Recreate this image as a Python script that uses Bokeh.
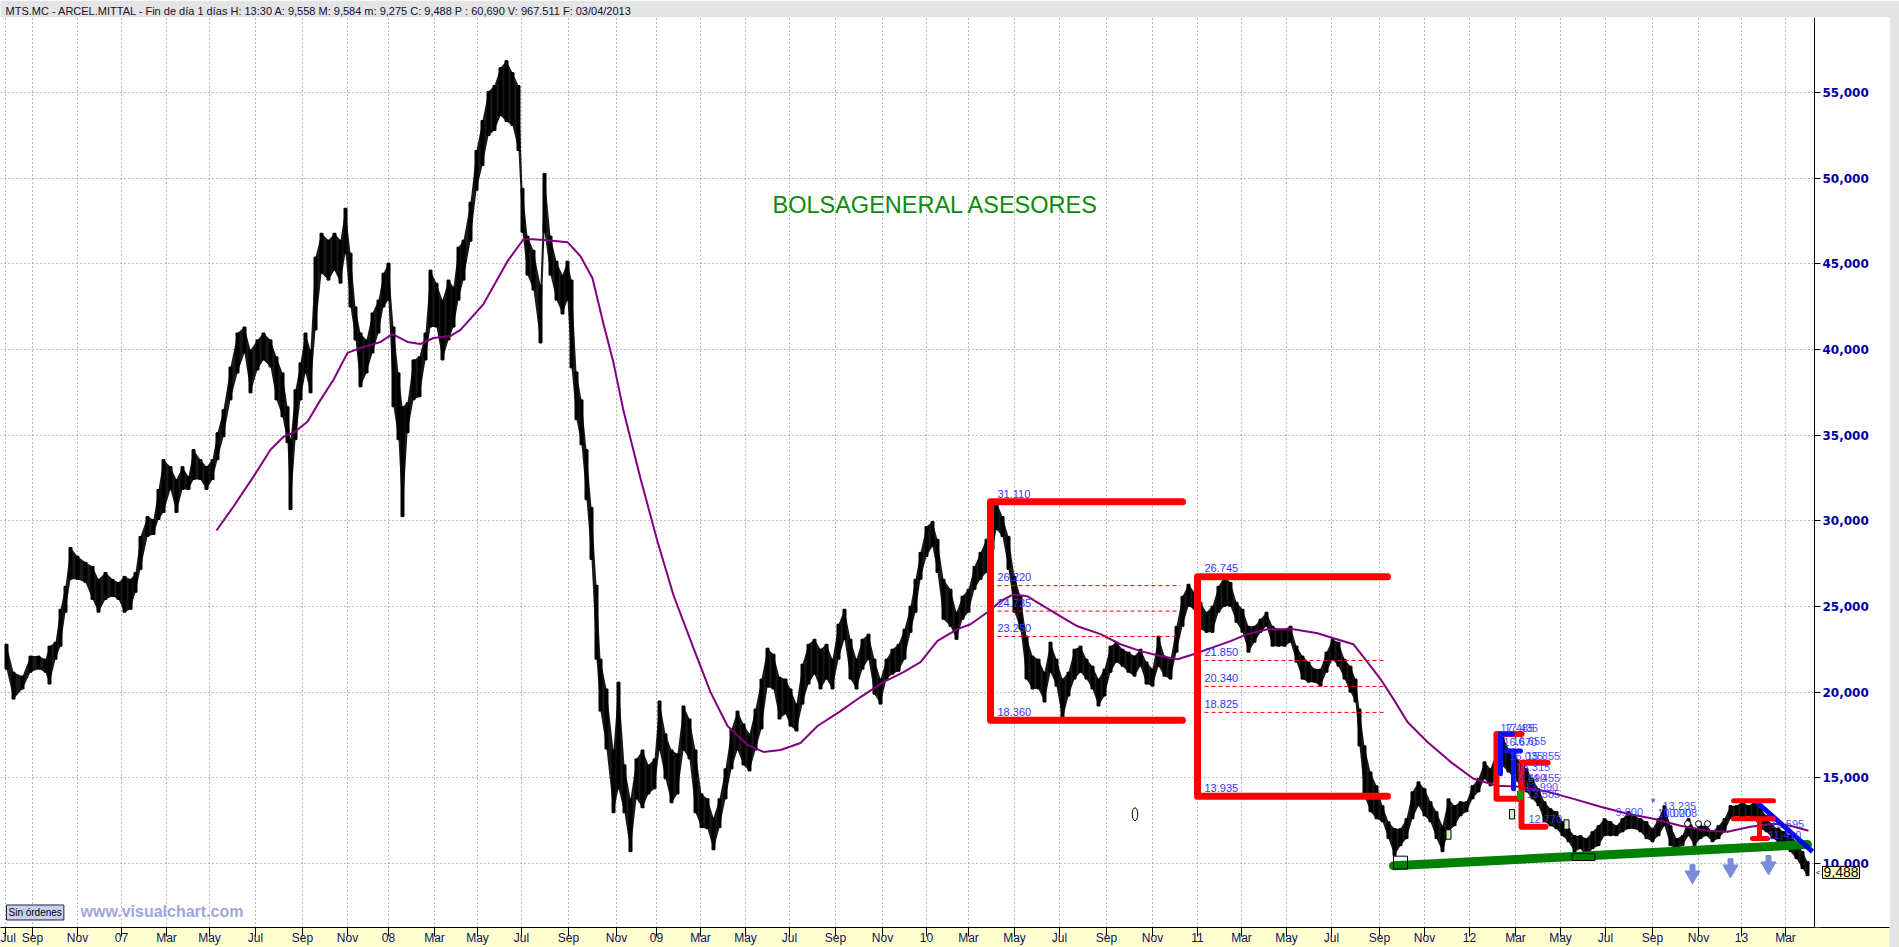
from bokeh.plotting import figure
from bokeh.models import FixedTicker, Label
from bokeh.embed import file_html
from bokeh.resources import INLINE
from bokeh.core.properties import value

# ---------------- data ----------------
header_text = ("MTS.MC - ARCEL.MITTAL - Fin de día 1 días  H: 13:30  A: 9,558  M: 9,584  "
               "m: 9,275  C: 9,488  P : 60,690  V: 967.511  F: 03/04/2013")

# x axis: bar index of first session of each labelled month
tick_pos = [5, 32, 77, 121, 166, 209, 255, 302, 347, 388, 434, 477, 521, 568, 616, 656,
            700, 745, 789, 835, 882, 926, 968, 1014, 1059, 1106, 1152, 1197, 1241, 1286,
            1331, 1379, 1424, 1469, 1515, 1560, 1605, 1652, 1698, 1741, 1785]
tick_lab = ["Jul", "Sep", "Nov", "07", "Mar", "May", "Jul", "Sep", "Nov", "08", "Mar", "May",
            "Jul", "Sep", "Nov", "09", "Mar", "May", "Jul", "Sep", "Nov", "10", "Mar", "May",
            "Jul", "Sep", "Nov", "11", "Mar", "May", "Jul", "Sep", "Nov", "12", "Mar", "May",
            "Jul", "Sep", "Nov", "13", "Mar"]
price_ticks = [10, 15, 20, 25, 30, 35, 40, 45, 50, 55]
price_labels = ["10,000", "15,000", "20,000", "25,000", "30,000", "35,000", "40,000",
                "45,000", "50,000", "55,000"]

bar_x = [6, 13, 22, 30, 38, 45, 49, 55, 60, 65,
         70, 77, 85, 92, 98, 105, 112, 118, 124, 130,
         135, 140, 147, 153, 158, 163, 170, 176, 182, 188,
         193, 200, 206, 212, 217, 223, 230, 237, 244, 250,
         257, 263, 270, 276, 282, 287, 290, 295, 300, 305,
         310, 315, 321, 328, 334, 340, 345, 350, 355, 360,
         366, 372, 378, 383, 388, 393, 398, 402, 407, 413,
         419, 425, 430, 436, 442, 448, 453, 458, 463, 470,
         476, 482, 488, 494, 500, 506, 512, 518, 522, 527,
         533, 540, 544, 550, 556, 562, 567, 571, 576, 581,
         586, 591, 596, 600, 606, 613, 618, 624, 630, 636,
         642, 648, 654, 659, 665, 671, 677, 683, 689, 695,
         701, 707, 713, 719, 725, 731, 737, 743, 749, 755,
         761, 767, 773, 779, 785, 790, 796, 802, 808, 814,
         820, 826, 832, 838, 844, 850, 856, 862, 868, 874,
         880, 886, 892, 898, 904, 910, 915, 920, 926, 932,
         937, 943, 950, 956, 962, 968, 974, 980, 986, 992,
         996, 1002, 1008, 1014, 1020, 1026, 1032, 1038, 1044, 1050,
         1056, 1062, 1068, 1074, 1080, 1086, 1092, 1098, 1104, 1110,
         1116, 1122, 1128, 1134, 1140, 1146, 1152, 1158, 1164, 1170,
         1176, 1182, 1188, 1194, 1200, 1206, 1212, 1218, 1224, 1230,
         1236, 1242, 1248, 1254, 1260, 1266, 1272, 1278, 1284, 1290,
         1296, 1302, 1308, 1314, 1320, 1326, 1332, 1338, 1344, 1350,
         1355, 1359, 1364, 1370, 1376, 1382, 1388, 1394, 1400, 1406,
         1412, 1418, 1424, 1430, 1436, 1442, 1448, 1454, 1460, 1466,
         1472, 1478, 1484, 1490, 1496, 1502, 1508, 1514, 1520, 1526,
         1532, 1538, 1544, 1550, 1556, 1562, 1568, 1574, 1580, 1586,
         1592, 1598, 1604, 1610, 1616, 1622, 1628, 1634, 1640, 1646,
         1652, 1658, 1664, 1670, 1676, 1682, 1688, 1694, 1700, 1706,
         1712, 1718, 1724, 1730, 1736, 1742, 1748, 1754, 1760, 1766,
         1772, 1778, 1784, 1790, 1796, 1802, 1807]

bar_high = [22.80, 21.17, 20.94, 22.11, 22.11, 21.93, 22.69, 22.92, 24.84, 26.18,
            28.45, 27.93, 27.58, 27.34, 26.59, 26.99, 26.59, 26.41, 26.76, 26.59,
            26.99, 29.09, 30.25, 30.08, 31.83, 33.57, 33.16, 32.41, 33.16, 32.58,
            34.15, 33.57, 33.16, 33.57, 35.14, 36.48, 38.98, 40.96, 41.31, 39.97,
            40.56, 40.96, 40.56, 39.57, 38.63, 36.66, 34.74, 37.65, 39.22, 40.96,
            39.97, 45.39, 46.78, 46.38, 46.78, 46.38, 48.24, 45.62, 42.48, 40.96,
            40.56, 42.13, 42.88, 44.45, 45.04, 41.31, 38.63, 36.66, 36.89, 39.39,
            39.57, 40.96, 44.63, 43.87, 42.88, 44.05, 43.64, 45.97, 46.38, 48.59,
            51.61, 53.36, 55.05, 55.40, 56.44, 56.85, 56.15, 55.40, 49.40, 46.61,
            45.79, 43.76, 50.27, 46.61, 45.15, 44.34, 45.15, 44.05, 38.69, 37.06,
            34.15, 30.78, 26.24, 21.93, 20.19, 16.63, 20.59, 15.76, 13.78, 16.11,
            16.63, 15.76, 16.11, 19.49, 17.57, 16.63, 16.40, 19.20, 18.44, 16.63,
            14.07, 13.78, 12.68, 13.78, 15.53, 17.86, 18.90, 18.15, 17.57, 19.02,
            20.77, 22.57, 22.22, 20.88, 20.77, 20.19, 19.31, 21.64, 22.80, 23.09,
            22.51, 22.80, 21.93, 23.97, 24.84, 23.09, 21.93, 23.09, 23.39, 21.93,
            20.77, 21.93, 22.51, 22.80, 23.68, 25.02, 26.59, 28.16, 29.67, 29.96,
            28.92, 26.59, 26.01, 24.67, 25.60, 26.01, 27.34, 28.16, 28.92, 30.84,
            31.11, 30.25, 29.09, 26.76, 25.60, 23.27, 22.11, 21.93, 21.17, 22.92,
            21.93, 20.77, 21.17, 22.51, 22.69, 21.93, 21.52, 20.77, 21.35, 22.69,
            22.92, 22.51, 22.34, 22.11, 22.51, 21.76, 21.35, 23.27, 22.11, 21.93,
            23.85, 25.60, 26.30, 25.83, 25.25, 24.67, 25.02, 26.18, 26.75, 26.41,
            25.25, 24.84, 23.85, 23.85, 24.26, 24.67, 23.85, 23.68, 23.68, 23.85,
            22.69, 22.11, 21.76, 21.35, 21.35, 22.34, 23.09, 22.92, 21.93, 21.52,
            20.77, 19.02, 16.87, 15.35, 14.54, 13.38, 12.44, 12.04, 12.04, 12.62,
            14.19, 14.77, 14.37, 13.61, 13.03, 12.21, 13.78, 13.38, 13.61, 13.61,
            14.54, 14.95, 15.94, 15.53, 16.52, 17.48, 16.69, 16.29, 15.94, 15.53,
            14.95, 14.37, 13.61, 13.20, 13.03, 12.44, 12.04, 11.63, 11.63, 11.46,
            11.86, 12.21, 12.62, 12.44, 12.21, 12.62, 13.03, 12.79, 12.62, 12.44,
            12.04, 12.62, 13.38, 12.21, 11.46, 11.63, 12.62, 12.04, 12.21, 12.21,
            11.86, 12.21, 12.62, 13.38, 13.38, 13.61, 13.38, 13.61, 13.20, 12.79,
            12.21, 12.04, 11.86, 11.63, 11.28, 10.70, 10.12]

bar_low = [21.35, 19.60, 20.19, 21.17, 21.35, 21.17, 20.48, 21.93, 22.69, 24.67,
           26.59, 26.59, 26.41, 25.42, 24.67, 25.42, 25.60, 25.42, 24.67, 24.84,
           25.83, 27.17, 29.09, 29.21, 30.08, 30.49, 31.83, 30.49, 31.83, 31.83,
           32.41, 32.41, 31.83, 32.41, 33.57, 34.91, 37.06, 38.63, 39.80, 37.47,
           38.81, 39.39, 38.98, 37.06, 36.07, 34.56, 30.66, 34.74, 37.06, 38.63,
           37.47, 41.14, 44.45, 44.05, 44.63, 43.87, 45.62, 42.48, 40.56, 37.82,
           38.63, 39.80, 40.96, 42.48, 42.88, 36.66, 34.74, 30.25, 35.14, 37.06,
           37.24, 39.39, 41.31, 41.31, 39.39, 40.56, 41.31, 42.88, 44.05, 46.32,
           49.29, 50.74, 52.49, 52.78, 53.65, 53.30, 53.07, 51.61, 46.84, 44.34,
           43.47, 40.38, 46.84, 44.34, 42.88, 42.07, 42.88, 38.93, 35.90, 34.44,
           31.24, 27.75, 21.93, 18.90, 16.69, 12.97, 14.37, 12.97, 10.70, 13.78,
           13.26, 14.07, 14.37, 16.63, 14.95, 13.55, 14.07, 16.63, 16.11, 12.97,
           12.10, 12.04, 10.81, 12.10, 13.78, 15.53, 16.63, 15.76, 15.41, 16.63,
           17.86, 20.30, 20.19, 18.44, 18.73, 18.03, 17.74, 19.31, 20.48, 21.06,
           20.19, 20.77, 20.19, 21.93, 23.09, 20.77, 20.19, 21.35, 21.93, 19.89,
           19.31, 20.77, 21.06, 21.23, 21.93, 23.50, 24.67, 26.59, 27.93, 28.51,
           26.99, 24.26, 23.85, 23.09, 24.26, 24.67, 26.01, 26.59, 26.99, 28.33,
           29.50, 29.09, 27.17, 24.67, 23.68, 20.77, 20.19, 20.19, 19.43, 21.17,
           20.36, 18.40, 19.78, 20.77, 21.17, 20.77, 20.19, 19.20, 19.78, 21.17,
           21.76, 21.52, 21.17, 20.94, 21.52, 20.48, 20.36, 21.52, 20.94, 20.77,
           22.34, 23.85, 25.02, 24.84, 23.68, 23.50, 23.50, 24.67, 25.02, 25.02,
           24.08, 23.50, 22.34, 22.92, 23.50, 23.85, 22.69, 22.69, 22.69, 22.92,
           21.76, 20.77, 20.59, 20.59, 20.36, 21.17, 21.93, 21.52, 20.77, 20.01,
           19.43, 16.87, 13.96, 13.03, 12.62, 12.44, 11.46, 10.47, 11.05, 11.46,
           12.62, 13.38, 12.79, 12.44, 11.46, 10.70, 11.86, 12.21, 12.79, 13.03,
           13.78, 14.19, 14.95, 14.54, 14.95, 15.70, 15.35, 14.95, 14.54, 14.19,
           13.78, 13.38, 12.44, 12.21, 12.04, 11.63, 11.28, 10.70, 10.87, 10.41,
           10.87, 11.05, 11.63, 11.63, 11.63, 11.86, 12.04, 12.04, 11.86, 11.46,
           11.28, 11.63, 12.21, 11.05, 10.87, 11.05, 11.63, 11.05, 11.46, 11.63,
           11.28, 11.46, 11.86, 12.62, 12.79, 12.62, 12.79, 12.62, 12.04, 11.86,
           11.46, 11.28, 11.05, 10.70, 10.29, 9.71, 9.30]

ma_x = [216, 233, 253, 270, 283, 293, 307, 320, 333, 347, 360, 380, 392, 407, 420, 433,
        450, 460, 483, 507, 523, 532, 547, 567, 580, 592, 603, 613, 623, 640, 657, 673,
        693, 710, 727, 747, 763, 780, 800, 817, 840, 860, 883, 903, 920, 937, 957, 970,
        987, 1000, 1013, 1027, 1043, 1060, 1077, 1100, 1120, 1140, 1160, 1177, 1193, 1213,
        1230, 1247, 1267, 1293, 1317, 1333, 1353, 1367, 1380, 1393, 1407, 1427, 1450, 1473,
        1497, 1520, 1547, 1573, 1600, 1627, 1653, 1680, 1707, 1727, 1750, 1773, 1790, 1808]
ma_val = [29.44, 30.84, 32.58, 34.15, 34.91, 35.14, 35.78, 37.06, 38.23, 39.80, 40.09,
          40.44, 40.90, 40.44, 40.32, 40.67, 40.79, 41.14, 42.65, 45.15, 46.43, 46.43,
          46.38, 46.26, 45.44, 44.16, 41.49, 39.22, 36.42, 32.47, 28.80, 25.66, 22.57,
          20.01, 18.03, 16.93, 16.52, 16.63, 17.04, 18.03, 18.90, 19.72, 20.59, 21.17,
          21.76, 23.00, 23.68, 23.97, 24.67, 25.31, 25.71, 25.60, 25.02, 24.43, 23.85,
          23.39, 22.80, 22.40, 22.11, 21.93, 22.22, 22.63, 22.98, 23.39, 23.68, 23.68,
          23.44, 23.15, 22.80, 21.76, 20.77, 19.60, 18.26, 17.10, 15.94, 14.95, 14.54,
          14.48, 14.19, 13.78, 13.32, 12.91, 12.62, 12.21, 11.92, 11.86, 12.15, 12.33,
          12.21, 11.92]

# retracement boxes
box_left = [990, 1197]
box_right = [1182, 1387]
box_top = [31.11, 26.745]
box_bottom = [18.36, 13.935]
box_fibs = [[26.22, 24.735, 23.25], [21.85, 20.34, 18.825]]

# 2012 brackets
br_red_x = [[1521, 1496, 1496, 1519], [1547, 1521, 1521, 1545]]
br_red_y = [[17.57, 17.57, 13.78, 13.78], [15.88, 15.88, 12.15, 12.15]]
br_blue_x = [[1512, 1500, 1500], [1520, 1506], [1513, 1513]]
br_blue_y = [[17.57, 17.57, 15.24], [16.57, 16.57], [16.57, 14.37]]
lab12_x = [1500, 1504, 1503, 1512, 1509, 1526, 1516, 1512, 1526, 1524, 1526, 1528,
           1615, 1662, 1657, 1663, 1770, 1768]
lab12_y = [17.68, 17.68, 16.85, 16.95, 16.05, 16.05, 15.41, 14.77, 14.77, 14.25, 13.84, 12.39,
           12.79, 13.14, 12.74, 12.74, 12.10, 11.46]
lab12_t = ["17.485", "17.435", "16.670", "16.655", "16.035", "15.855", "15.315", "14.490",
           "14.455", "13.990", "13.585", "12.770", "9.900", "13.235", "10.020", "10.008",
           "12.595", "11.410"]

# support line, resistance line, marks
support_x = [1393, 1807]
support_y = [9.88, 11.11]
down_x = [1757, 1812]
down_y = [13.55, 10.70]
arrow_x = [1692, 1730, 1768]
arrow_top = [9.94, 10.29, 10.47]
last_price = 9.488
last_label = "9,488"

# ---------------- figure ----------------
X_END = 1889     # frame reaches under the price-scale column
AXIS_AT = 1814   # price scale drawn here
Y0, Y1 = 6.274, 59.37
p = figure(width=1899, height=947, x_range=(0, X_END), y_range=(Y0, Y1),
           y_axis_location="right", toolbar_location=None, output_backend="svg",
           min_border_left=0, min_border_right=10, min_border_top=17, min_border_bottom=18)
p.background_fill_color = "white"
p.border_fill_color = "#E4E4E4"
p.outline_line_color = None

p.title.text = header_text
p.title.text_font = "Liberation Sans"
p.title.text_font_size = "11px"
p.title.text_font_style = "normal"
p.title.text_color = "#101030"
p.title.align = "left"
p.title.offset = 5
p.title.standoff = 2
p.title.background_fill_color = "#E4E4E4"

# axes
p.xaxis.ticker = FixedTicker(ticks=tick_pos)
p.xaxis.major_label_overrides = {t: l for t, l in zip(tick_pos, tick_lab)}
p.xaxis.major_label_text_align = "left"
p.xaxis.major_label_text_font = "Liberation Sans"
p.xaxis.major_label_text_font_size = "12px"
p.xaxis.major_label_text_color = "#101050"
p.xaxis.major_label_standoff = -6
p.xaxis.major_tick_in = 0
p.xaxis.major_tick_out = 9
p.xaxis.minor_tick_line_color = None
p.xaxis.axis_line_color = "black"
p.xaxis.major_tick_line_color = "black"

# price scale: axis line + ticks at AXIS_AT, its labels written as text beside it
p.yaxis.ticker = FixedTicker(ticks=price_ticks)
p.yaxis.major_label_overrides = {t: "" for t in price_ticks}
p.yaxis.major_tick_in = 0
p.yaxis.major_tick_out = 6
p.yaxis.major_label_standoff = 0
p.yaxis.minor_tick_line_color = None
p.yaxis.axis_line_color = "black"
p.yaxis.major_tick_line_color = "black"
p.yaxis.fixed_location = AXIS_AT
try:
    p.xaxis.background_fill_color = "#FFFFD2"
    p.yaxis.background_fill_color = "white"
except Exception:
    pass

for g in (p.xgrid, p.ygrid):
    g.grid_line_color = "#7A7A7A"
    g.grid_line_dash = "1 3"
    g.grid_line_width = 1

# white column right of the price scale line (hides grid there)
p.quad(left=[AXIS_AT + 0.5], right=[X_END + 5], bottom=[Y0 - 1], top=[Y1 + 1],
       fill_color="white", line_color=None)
p.text(x=[AXIS_AT + 8] * len(price_ticks), y=price_ticks, text=price_labels,
       text_font=value("DejaVu Sans"), text_font_style="bold", text_font_size="12px",
       text_color="#00009C", text_baseline="middle", text_align="left")

# price bars (high-low band + bars)
p.varea(x=bar_x, y1=bar_low, y2=bar_high, fill_color="black", fill_alpha=0.9)
p.vbar(x=bar_x, top=bar_high, bottom=bar_low, width=3, color="black")

# moving average
p.line(ma_x, ma_val, color="#800080", line_width=2)

# retracement boxes
txt_font = value("Liberation Sans")
lab_x, lab_y, lab_t = [], [], []
fx0, fx1, fy = [], [], []
for i in range(2):
    x0, x1 = box_left[i], box_right[i]
    p.line([x1, x0, x0, x1], [box_top[i], box_top[i], box_bottom[i], box_bottom[i]],
           color="#FF0000", line_width=7, line_join="round", line_cap="round")
    for lv in [box_top[i], box_bottom[i]] + box_fibs[i]:
        lab_x.append(x0 + 7)
        lab_y.append(lv + 0.25)
        lab_t.append(f"{lv:.3f}")
    for lv in box_fibs[i]:
        fx0.append(x0 + 7)
        fx1.append(x1 - 2)
        fy.append(lv)
p.segment(x0=fx0, y0=fy, x1=fx1, y1=fy, color="#FF0000", line_width=1, line_dash="4 3")

# 2012 brackets
p.multi_line(br_red_x, br_red_y, color="#FF0000", line_width=6, line_join="round", line_cap="round")
p.multi_line(br_blue_x, br_blue_y, color="#1010FF", line_width=5, line_join="round", line_cap="round")
p.rect(x=[1519.5], y=[13.98], width=5, height=0.5, fill_color="#00A000", line_color="#00A000")

# support / resistance
p.line(support_x, support_y, color="#008000", line_width=9, line_cap="round")
p.line(down_x, down_y, color="#0000FF", line_width=5)

# I-beam mark
p.segment(x0=[1733, 1733, 1752], y0=[13.67, 12.62, 11.46], x1=[1773, 1773, 1767],
          y1=[13.67, 12.62, 11.46], color="#FF0000", line_width=5, line_cap="round")
p.segment(x0=[1759], y0=[12.62], x1=[1759], y1=[11.46], color="#FF0000", line_width=5)

# small marks
p.ellipse(x=[1134.5], y=[12.88], width=5.5, height=0.76, fill_color="#FFF8DC", line_color="black")
p.rect(x=[1511.5, 1448, 1566], y=[12.88, 11.70, 12.28], width=5, height=0.55,
       fill_color="#D4F2C8", line_color="black")
p.rect(x=[1400, 1583], y=[10.06, 10.38], width=[14, 23], height=[0.75, 0.4],
       fill_color=None, line_color="black")
p.scatter(x=[1687, 1698, 1707], y=[12.33, 12.33, 12.33], size=6, marker="circle",
          fill_color="white", line_color="black")

# down arrows
p.vbar(x=arrow_x, top=arrow_top, bottom=[a - 0.45 for a in arrow_top], width=5,
       color="#7B8BDB")
p.scatter(x=arrow_x, y=[a - 0.62 for a in arrow_top], marker="inverted_triangle", size=15,
          color="#7B8BDB")

# numeric labels
p.text(x=lab_x, y=lab_y, text=lab_t, text_font=txt_font, text_font_size="11px",
       text_color="#3333FF", text_baseline="bottom")
p.text(x=lab12_x, y=lab12_y, text=lab12_t, text_font=txt_font, text_font_size="11px",
       text_color="#3333FF", text_baseline="bottom", text_alpha=0.9)
p.text(x=[1650], y=[13.14], text=["*"], text_font=txt_font, text_font_size="13px",
       text_color="#3333FF", text_baseline="bottom")

# texts
p.add_layout(Label(x=772, y=48.41, text="BOLSAGENERAL ASESORES", text_font="Liberation Sans",
                   text_font_size="23.5px", text_color="#0A8C0A", text_baseline="middle"))
sin = Label(x=6, y=7.15, text="Sin órdenes", text_font="Liberation Sans", text_font_size="10px",
            text_color="black", text_baseline="middle", background_fill_color="#C8D2EE",
            border_line_color="#202050")
try:
    sin.padding = 2
except Exception:
    pass
p.add_layout(sin)
p.add_layout(Label(x=80, y=7.2, text="www.visualchart.com", text_font="Liberation Sans",
                   text_font_size="16px", text_font_style="bold", text_color="#A0A7DA",
                   text_baseline="middle"))
p.add_layout(Label(x=AXIS_AT + 1.5, y=last_price, text="<", text_font="Liberation Sans",
                   text_font_size="8px", text_color="black", text_baseline="middle"))
tag = Label(x=AXIS_AT + 8, y=last_price, text=last_label, text_font="Liberation Sans",
            text_font_size="14px", text_color="black", text_baseline="middle",
            background_fill_color="#FFFFC0", border_line_color="black")
try:
    tag.padding = 1
except Exception:
    pass
p.add_layout(tag)

open("out.html", "w").write(file_html(p, INLINE))
